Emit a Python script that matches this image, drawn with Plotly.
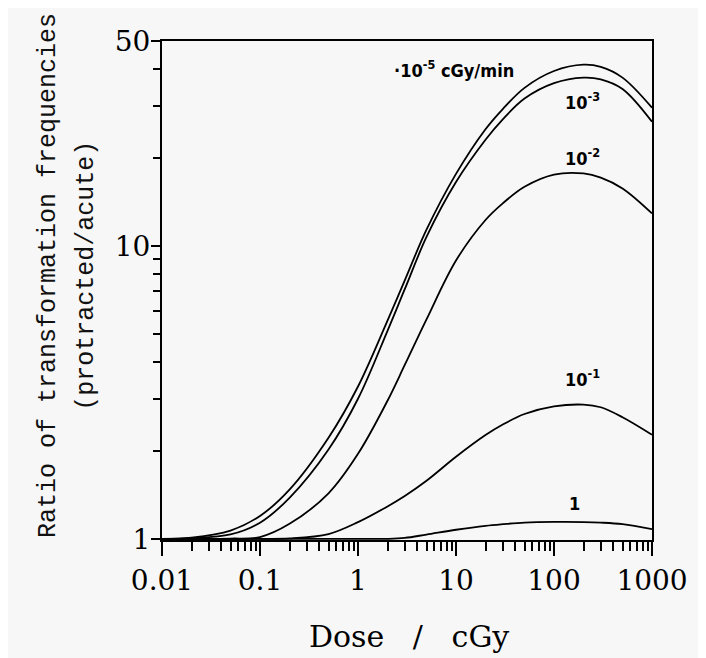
import plotly.graph_objects as go
import math

# Dose (cGy)
dose = [0.01, 0.02, 0.05, 0.1, 0.2, 0.5, 1, 2, 3, 5, 10, 20, 30, 50, 100, 200, 300, 500, 1000]

# Ratio of transformation frequencies (protracted/acute) for each dose rate
ratio_1e_5 = [1.0, 1.01, 1.067, 1.197, 1.472, 2.213, 3.311, 5.559, 7.62, 11.35, 17.6,
              25.0, 29.3, 34.6, 39.5, 41.5, 40.8, 37.5, 29.6]
ratio_1e_3 = [1.0, 1.005, 1.035, 1.135, 1.380, 2.018, 3.006, 5.129, 7.11, 10.72, 16.5,
              23.0, 27.0, 31.8, 35.9, 37.5, 37.0, 34.3, 26.5]
ratio_1e_2 = [1.0, 1.0, 1.002, 1.014, 1.125, 1.43, 1.95, 2.96, 3.92, 5.61, 8.91,
              12.25, 13.96, 15.9, 17.5, 17.66, 17.1, 15.7, 12.9]
ratio_1e_1 = [1.0, 1.0, 1.0, 1.0, 1.003, 1.038, 1.14, 1.29, 1.40, 1.578, 1.905,
              2.259, 2.455, 2.667, 2.831, 2.871, 2.812, 2.600, 2.265]
ratio_1 = [1.0, 1.0, 1.0, 1.0, 1.0, 1.0, 1.0, 1.0, 1.007, 1.034, 1.074,
           1.108, 1.122, 1.136, 1.142, 1.141, 1.136, 1.122, 1.079]

series = [ratio_1e_5, ratio_1e_3, ratio_1e_2, ratio_1e_1, ratio_1]

# Curve labels
label_texts = ["\u00b710<sup>-5</sup> cGy/min", "10<sup>-3</sup>", "10<sup>-2</sup>",
               "10<sup>-1</sup>", "1"]
label_dose = [9.6, 194, 194, 194, 161]
label_ratio = [40.2, 31.3, 20.1, 3.54, 1.315]

x_tickvals = [0.01, 0.1, 1, 10, 100, 1000]
x_ticktext = ["0.01", "0.1", "1", "10", "100", "1000"]
y_tickvals = [1, 10, 50]
y_ticktext = ["1", "10", "50"]
x_minor = [m * 10 ** e for e in range(-2, 3) for m in range(2, 10)]
y_minor = [2, 3, 4, 5, 6, 7, 8, 9, 20, 30, 40]

fig = go.Figure()
for s in series:
    fig.add_trace(go.Scatter(x=dose, y=s, mode="lines",
                             line=dict(color="black", width=1.8, shape="spline", smoothing=1.0),
                             showlegend=False, hoverinfo="skip"))

for t, xd, yr in zip(label_texts, label_dose, label_ratio):
    fig.add_annotation(x=math.log10(xd), y=math.log10(yr), xref="x", yref="y", text=t,
                       showarrow=False, xanchor="center", yanchor="middle",
                       font=dict(family="Liberation Sans Narrow, DejaVu Sans Condensed, Arial Narrow",
                                 size=18, color="black", weight="bold"))

serif = "DejaVu Serif, Liberation Serif, serif"
mono = "Liberation Mono, Courier New, monospace"

fig.add_annotation(x=(47 - 161) / 492, y=0.53, xref="paper", yref="paper",
                   text="Ratio of transformation frequencies", textangle=-90,
                   xanchor="center", yanchor="middle",
                   showarrow=False, font=dict(family=mono, size=25, color="#111111"))
fig.add_annotation(x=(85 - 161) / 492, y=0.53, xref="paper", yref="paper",
                   text="(protracted/acute)", textangle=-90,
                   xanchor="center", yanchor="middle",
                   showarrow=False, font=dict(family=mono, size=25, color="#111111"))
fig.add_annotation(x=0.504, y=(540 - 637) / 500, xref="paper", yref="paper",
                   text="Dose   /   cGy", showarrow=False,
                   xanchor="center", yanchor="middle",
                   font=dict(family=serif, size=30, color="black"))

fig.update_xaxes(type="log", range=[-2, 3], tickmode="array", tickvals=x_tickvals,
                 ticktext=x_ticktext, ticks="outside", ticklen=14, tickwidth=1.5,
                 tickcolor="black", showline=True, linecolor="black", linewidth=2,
                 mirror=True, showgrid=False, zeroline=False,
                 tickfont=dict(family=serif, size=28, color="black"),
                 minor=dict(tickmode="array", tickvals=x_minor, ticks="outside", ticklen=9,
                            tickwidth=1.5, tickcolor="black", showgrid=False))
fig.update_yaxes(type="log", range=[-0.004, math.log10(50)], tickmode="array",
                 tickvals=y_tickvals, ticktext=y_ticktext, ticks="outside", ticklen=9,
                 tickwidth=1.5, tickcolor="black", showline=True, linecolor="black",
                 linewidth=2, mirror=True, showgrid=False, zeroline=False,
                 ticklabelstandoff=-5,
                 tickfont=dict(family=serif, size=28, color="black"),
                 minor=dict(tickmode="array", tickvals=y_minor, ticks="outside", ticklen=7,
                            tickwidth=1.5, tickcolor="black", showgrid=False))

fig.update_layout(width=698, height=650, margin=dict(l=154, r=54, t=33, b=118),
                  paper_bgcolor="#f7f7f7", plot_bgcolor="#f7f7f7")

fig.write_html("out.html")
